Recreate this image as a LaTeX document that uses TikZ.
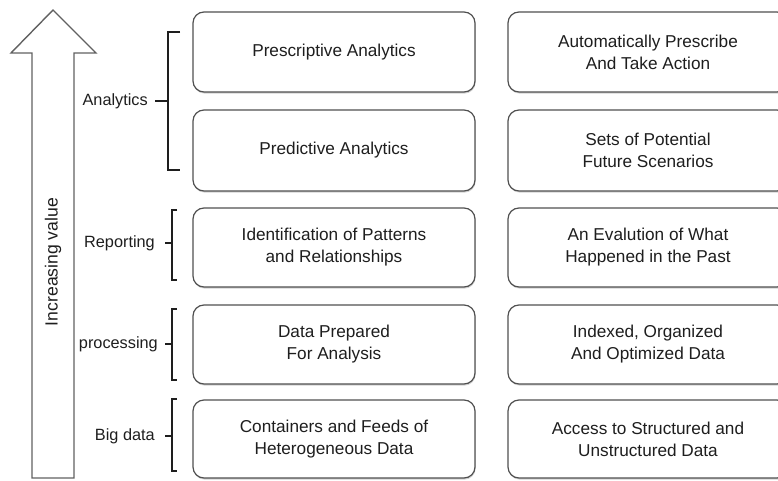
\documentclass[tikz,border=0pt]{standalone}
\usepackage{fontspec}
\setmainfont{Liberation Sans}
\usetikzlibrary{shadows}
\definecolor{txt}{HTML}{1E1E1E}
\definecolor{edge}{HTML}{505050}
\begin{document}
\begin{tikzpicture}[x=1pt,y=-1pt,
  stagebox/.style={draw=edge, line width=1.2pt, rounded corners=11pt, fill=white,
    minimum width=282pt, minimum height=80pt, align=center, text=txt,
    font=\fontsize{17.2pt}{22pt}\selectfont, inner sep=0pt,
    drop shadow={shadow xshift=0.6pt, shadow yshift=-1.6pt, opacity=0.35, fill=gray}},
  lbl/.style={anchor=east, text=txt, font=\fontsize{16.3pt}{19pt}\selectfont, inner sep=0pt},
  brk/.style={draw=txt, line width=1.8pt},
  bigarrow/.style={draw=edge!90, line width=1.4pt, fill=white, line join=miter}]
\useasboundingbox (0,0) rectangle (778,481);
\clip (0,0) rectangle (778,481);
% big arrow
\draw[bigarrow] (53,10) -- (96,53) -- (74,53) -- (74,478) -- (32,478) -- (32,53) -- (11,53) -- cycle;
\node[rotate=90, text=txt, font=\fontsize{17.6pt}{20pt}\selectfont, inner sep=0pt] (iv) at (53,262) {Increasing value};
% left boxes
\node[stagebox] (p1) at (334,52) {Prescriptive Analytics};
\node[stagebox, minimum height=81pt] (p2) at (334,150.5) {Predictive Analytics};
\node[stagebox, minimum height=79pt] (p3) at (334,247.5) {Identification of Patterns\\and Relationships};
\node[stagebox, minimum height=79pt] (p4) at (334,344.5) {Data Prepared\\For Analysis};
\node[stagebox, minimum height=78pt] (p5) at (334,439) {Containers and Feeds of\\Heterogeneous Data};
% right boxes
\node[stagebox, minimum width=280pt] (q1) at (648,52) {Automatically Prescribe\\And Take Action};
\node[stagebox, minimum width=280pt, minimum height=81pt] (q2) at (648,150.5) {Sets of Potential\\Future Scenarios};
\node[stagebox, minimum width=280pt, minimum height=79pt] (q3) at (648,247.5) {An Evalution of What\\Happened in the Past};
\node[stagebox, minimum width=280pt, minimum height=79pt] (q4) at (648,344.5) {Indexed, Organized\\And Optimized Data};
\node[stagebox, minimum width=280pt, minimum height=78pt] (q5) at (648,439) {Access to Structured and\\Unstructured Data};
% brackets and labels
\draw[brk] (180,32) -- (168,32) -- (168,170) -- (180,170);
\draw[brk] (155,101) -- (168,101);
\node[lbl] (l1) at (148,101) {Analytics};
\draw[brk] (177,210) -- (172,210) -- (172,280) -- (177,280);
\draw[brk] (165,243) -- (172,243);
\node[lbl] (l2) at (155,243) {Reporting};
\draw[brk] (177,309) -- (172,309) -- (172,380) -- (177,380);
\draw[brk] (165,344) -- (172,344);
\node[lbl] (l3) at (158,344) {processing};
\draw[brk] (177,399) -- (172,399) -- (172,471) -- (177,471);
\draw[brk] (165,436) -- (172,436);
\node[lbl] (l4) at (155,436) {Big data};
\end{tikzpicture}
\end{document}
